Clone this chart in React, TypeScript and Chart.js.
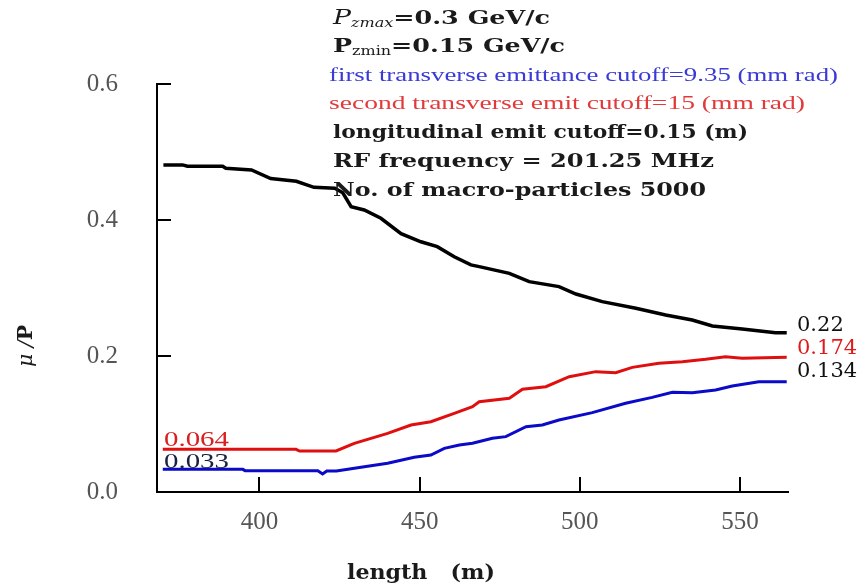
import React, { useEffect, useRef } from "react";
import { Chart, registerables } from "chart.js";

Chart.register(...registerables);

// ---- data ----
const blackX = [370, 376, 377.5, 388.5, 389.5, 397.5, 403.5, 411.5, 417, 423.5, 426, 428.6, 432.7, 437.9, 444.2, 450.4, 455.5, 460.8, 466, 468.6, 478, 484.2, 493.5, 498.8, 507, 517.5, 526.8, 535.1, 541.4, 550.7, 561.1, 564.6];
const blackY = [0.481, 0.481, 0.479, 0.479, 0.476, 0.4735, 0.461, 0.457, 0.448, 0.4466, 0.44, 0.4196, 0.4147, 0.4025, 0.38, 0.368, 0.3608, 0.346, 0.334, 0.3314, 0.3216, 0.3093, 0.302, 0.2912, 0.2799, 0.2701, 0.2603, 0.2529, 0.2441, 0.2397, 0.2343, 0.2343];

const redX = [369.8, 411.4, 412.5, 423.9, 429.6, 440.0, 447.3, 453.5, 460.8, 466.5, 468.6, 478.0, 482.1, 489.4, 496.7, 505.0, 511.2, 516.4, 524.7, 532.0, 539.3, 545.5, 550.7, 564.6];
const redY = [0.0628, 0.0628, 0.0603, 0.0603, 0.0716, 0.0863, 0.0985, 0.1034, 0.1157, 0.1255, 0.1328, 0.1378, 0.151, 0.1549, 0.1696, 0.177, 0.1755, 0.1833, 0.1892, 0.1917, 0.1951, 0.199, 0.1966, 0.198];

const blueX = [369.8, 394.8, 395.5, 418.2, 419.7, 421, 424, 431.7, 440.0, 448.3, 453.5, 457.7, 462.4, 466.5, 472.7, 476.9, 483.2, 488.3, 493.5, 503.9, 514.3, 522.6, 528.9, 535.1, 542.4, 547.6, 555.9, 564.6];
const blueY = [0.0333, 0.0333, 0.0314, 0.0314, 0.0265, 0.031, 0.031, 0.0363, 0.0422, 0.051, 0.0544, 0.0642, 0.0691, 0.0716, 0.079, 0.0814, 0.096, 0.0985, 0.1059, 0.1167, 0.1304, 0.1392, 0.1466, 0.146, 0.15, 0.1559, 0.1622, 0.1622];

const xTicks = [400, 450, 500, 550];
const yTicks = [0.2, 0.4, 0.6];

const endLabels = ["0.22", "0.174", "0.134"];
const startLabels = ["0.064", "0.033"];

const annotationLines = [
  "first transverse emittance cutoff=9.35 (mm rad)",
  "second transverse emit cutoff=15 (mm rad)",
  "longitudinal emit cutoff=0.15 (m)",
  "RF frequency = 201.25 MHz",
  "No. of macro-particles 5000",
];

const SERIF = '"DejaVu Serif", "Liberation Serif", serif';
const LSERIF = '"Liberation Serif", "DejaVu Serif", serif';

function stretchText(
  ctx: CanvasRenderingContext2D,
  text: string,
  left: number,
  yMid: number,
  right: number,
  font: string,
  color: string
) {
  ctx.save();
  ctx.font = font;
  ctx.fillStyle = color;
  ctx.textBaseline = "middle";
  ctx.textAlign = "left";
  const w = ctx.measureText(text).width;
  const sx = (right - left) / w;
  ctx.translate(left, yMid);
  ctx.scale(sx, 1);
  ctx.fillText(text, 0, 0);
  ctx.restore();
}

function plainText(
  ctx: CanvasRenderingContext2D,
  text: string,
  left: number,
  yMid: number,
  font: string,
  color: string
) {
  ctx.save();
  ctx.font = font;
  ctx.fillStyle = color;
  ctx.textBaseline = "middle";
  ctx.textAlign = "left";
  ctx.fillText(text, left, yMid);
  ctx.restore();
}

type Piece = { t: string; font: string; dy: number };

function stretchPieces(
  ctx: CanvasRenderingContext2D,
  pieces: Piece[],
  left: number,
  yMid: number,
  right: number,
  color: string
) {
  ctx.save();
  ctx.textBaseline = "middle";
  ctx.textAlign = "left";
  let total = 0;
  const widths = pieces.map((p) => {
    ctx.font = p.font;
    const w = ctx.measureText(p.t).width;
    total += w;
    return w;
  });
  const sx = (right - left) / total;
  ctx.translate(left, yMid);
  ctx.scale(sx, 1);
  ctx.fillStyle = color;
  let x = 0;
  pieces.forEach((p, i) => {
    ctx.font = p.font;
    ctx.fillText(p.t, x, p.dy);
    x += widths[i];
  });
  ctx.restore();
}

const decorPlugin = {
  id: "decor",
  afterDraw(chart: any) {
    const ctx: CanvasRenderingContext2D = chart.ctx;
    const xs = chart.scales.x;
    const ys = chart.scales.y;
    const area = chart.chartArea;

    // inward tick marks
    ctx.save();
    ctx.strokeStyle = "#000";
    ctx.lineWidth = 2;
    yTicks.forEach((v) => {
      const py = Math.round(ys.getPixelForValue(v));
      ctx.beginPath();
      ctx.moveTo(area.left, py);
      ctx.lineTo(area.left + 14, py);
      ctx.stroke();
    });
    xTicks.forEach((v) => {
      const px = Math.round(xs.getPixelForValue(v));
      ctx.beginPath();
      ctx.moveTo(px, area.bottom);
      ctx.lineTo(px, area.bottom - 15);
      ctx.stroke();
    });
    ctx.restore();

    // annotation block
    stretchPieces(
      ctx,
      [
        { t: "P", font: `italic 20px ${SERIF}`, dy: 0 },
        { t: "zmax", font: `italic 12px ${SERIF}`, dy: 5 },
        { t: "=0.3 GeV/c", font: `bold 19px ${SERIF}`, dy: 0 },
      ],
      333, 19, 550, "#1a1a1a"
    );
    stretchPieces(
      ctx,
      [
        { t: "P", font: `bold 19px ${SERIF}`, dy: 0 },
        { t: "zmin", font: `12px ${SERIF}`, dy: 5 },
        { t: "=0.15 GeV/c", font: `bold 19px ${SERIF}`, dy: 0 },
      ],
      333, 47, 565, "#1a1a1a"
    );
    stretchText(ctx, annotationLines[0], 329, 76, 838, `18px ${LSERIF}`, "#3a3ad6");
    stretchText(ctx, annotationLines[1], 329, 104, 805, `18px ${LSERIF}`, "#e23a3a");
    stretchText(ctx, annotationLines[2], 333, 133, 748, `bold 19px ${SERIF}`, "#1a1a1a");
    stretchText(ctx, annotationLines[3], 333, 162, 714, `bold 19px ${SERIF}`, "#1a1a1a");
    stretchText(ctx, annotationLines[4], 333, 191, 706, `bold 19px ${SERIF}`, "#1a1a1a");

    // end labels (right)
    plainText(ctx, endLabels[0], 797, 326, `21px ${SERIF}`, "#111");
    plainText(ctx, endLabels[1], 797, 349, `21px ${SERIF}`, "#e01a1a");
    plainText(ctx, endLabels[2], 797, 372, `21px ${SERIF}`, "#111");

    // start labels (left)
    stretchText(ctx, startLabels[0], 164, 440, 229, `21px ${LSERIF}`, "#d82020");
    stretchText(ctx, startLabels[1], 164, 462, 229, `21px ${LSERIF}`, "#1a2244");

    // x-axis title
    stretchText(ctx, "length   (m)", 347, 574, 495, `bold 21px ${SERIF}`, "#1a1a1a");

    // y-axis title (rotated)
    ctx.save();
    ctx.translate(27, 346);
    ctx.rotate(-Math.PI / 2);
    stretchPieces(
      ctx,
      [
        { t: "μ /", font: `italic 20px ${SERIF}`, dy: 0 },
        { t: "P", font: `bold 20px ${SERIF}`, dy: 0 },
      ],
      -21, 0, 21, "#1a1a1a"
    );
    ctx.restore();
  },
};

export default function App() {
  const ref = useRef<HTMLCanvasElement | null>(null);

  useEffect(() => {
    if (!ref.current) return;
    const mk = (xa: number[], ya: number[]) => xa.map((x, i) => ({ x, y: ya[i] }));
    const chart = new Chart(ref.current, {
      type: "line",
      data: {
        datasets: [
          { data: mk(blackX, blackY), borderColor: "#000000", borderWidth: 3.5, pointRadius: 0, tension: 0, fill: false },
          { data: mk(redX, redY), borderColor: "#e00f0f", borderWidth: 3, pointRadius: 0, tension: 0, fill: false },
          { data: mk(blueX, blueY), borderColor: "#0a0ac8", borderWidth: 3, pointRadius: 0, tension: 0, fill: false },
        ],
      },
      options: {
        responsive: false,
        animation: false,
        devicePixelRatio: 1,
        layout: { padding: { top: 84, right: 73, left: 0, bottom: 0 } },
        plugins: { legend: { display: false }, tooltip: { enabled: false } },
        scales: {
          x: {
            type: "linear",
            min: 368,
            max: 565,
            afterFit: (s: any) => { s.height = 96; },
            grid: { display: true, drawOnChartArea: false, drawTicks: false },
            border: { display: true, color: "#000", width: 2 },
            ticks: {
              stepSize: 50,
              includeBounds: false,
              padding: 15,
              color: "#555",
              font: { family: LSERIF, size: 25 },
              callback: (v: any) => String(v),
            },
          },
          y: {
            type: "linear",
            min: 0,
            max: 0.6,
            afterFit: (s: any) => { s.width = 157; },
            grid: { display: true, drawOnChartArea: false, drawTicks: false },
            border: { display: true, color: "#000", width: 2 },
            ticks: {
              stepSize: 0.2,
              padding: 39,
              color: "#555",
              font: { family: LSERIF, size: 25 },
              callback: (v: any) => Number(v).toFixed(1),
            },
          },
        },
      },
      plugins: [decorPlugin],
    });
    return () => chart.destroy();
  }, []);

  return (
    <div style={{ position: "fixed", left: 0, top: 0, width: 861, height: 588, background: "#fff" }}>
      <canvas ref={ref} width={861} height={588} style={{ display: "block" }} />
    </div>
  );
}
